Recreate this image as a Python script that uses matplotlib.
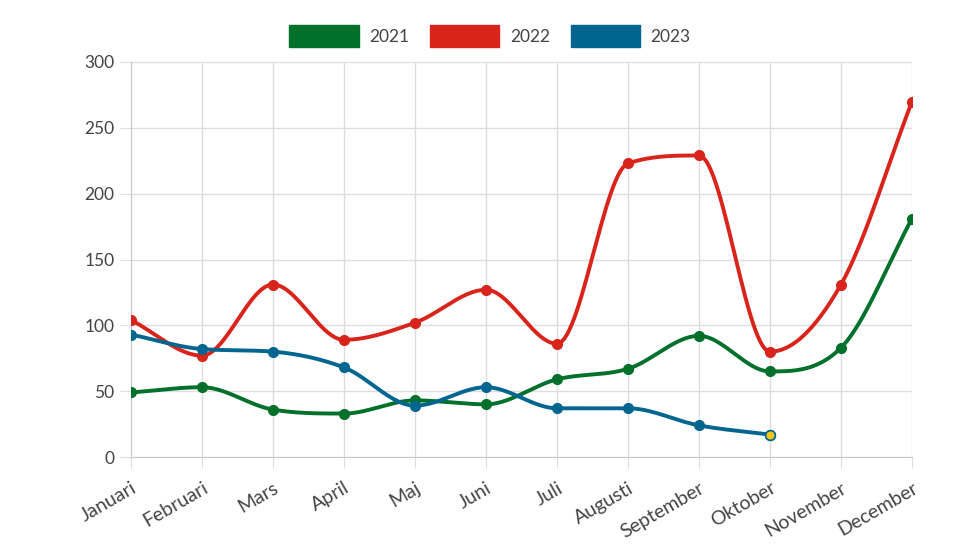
import numpy as np
import matplotlib
matplotlib.use("Agg")
import matplotlib.pyplot as plt
from matplotlib.patches import Patch

months = ["Januari", "Februari", "Mars", "April", "Maj", "Juni", "Juli",
          "Augusti", "September", "Oktober", "November", "December"]
v2021 = [49, 53, 36, 33, 43, 40, 59, 67, 92, 65, 83, 181]
v2022 = [104, 77, 131, 89, 102, 127, 86, 223, 229, 80, 131, 270]
v2023 = [93, 82, 80, 68, 39, 53, 37, 37, 24, 17]
yticks = [0, 50, 100, 150, 200, 250, 300]

colors = {"2021": "#00702b", "2022": "#d9241c", "2023": "#00668f"}

plt.rcParams['font.family'] = ['Lato', 'DejaVu Sans']


def monotone(x, y, n=30):
    x = np.asarray(x, float); y = np.asarray(y, float)
    h = np.diff(x); d = np.diff(y) / h
    m = np.zeros_like(y)
    m[0] = d[0]; m[-1] = d[-1]
    for i in range(1, len(y) - 1):
        if d[i - 1] * d[i] <= 0:
            m[i] = 0
        else:
            m[i] = (d[i - 1] + d[i]) / 2
    for i in range(len(d)):
        if d[i] == 0:
            m[i] = m[i + 1] = 0
        else:
            a = m[i] / d[i]; b = m[i + 1] / d[i]
            s = a * a + b * b
            if s > 9:
                t = 3 / np.sqrt(s)
                m[i] = t * a * d[i]; m[i + 1] = t * b * d[i]
    xs, ys = [], []
    for i in range(len(d)):
        t = np.linspace(0, 1, n)
        h00 = 2 * t**3 - 3 * t**2 + 1
        h10 = t**3 - 2 * t**2 + t
        h01 = -2 * t**3 + 3 * t**2
        h11 = t**3 - t**2
        xs.append(x[i] + t * h[i])
        ys.append(h00 * y[i] + h10 * h[i] * m[i] + h01 * y[i + 1] + h11 * h[i] * m[i + 1])
    return np.concatenate(xs), np.concatenate(ys)


fig = plt.figure(figsize=(9.8, 5.51), dpi=100)
ax = fig.add_axes([131 / 980, (551 - 457) / 551, (912 - 131) / 980, (457 - 62) / 551])

for label, vals in [("2021", v2021), ("2022", v2022), ("2023", v2023)]:
    x = np.arange(len(vals))
    sx, sy = monotone(x, vals)
    ax.plot(sx, sy, color=colors[label], lw=2.8, solid_capstyle='round', zorder=3)
    ax.plot(x, vals, 'o', color=colors[label], ms=7, zorder=4)

# highlight last 2023 point
ax.plot([len(v2023) - 1], [v2023[-1]], 'o', color="#f5c518", mec=colors["2023"],
        mew=1.2, ms=7, zorder=5)

ax.set_xlim(0, len(months) - 1)
ax.set_ylim(0, 300)
ax.set_xticks(np.arange(len(months)))
ax.set_xticklabels(months, rotation=30, ha='right', rotation_mode='anchor',
                   fontsize=14, color="#444444")
ax.set_yticks(yticks)
ax.set_yticklabels([str(t) for t in yticks], fontsize=12.5, color="#444444")
ax.grid(True, color="#dddddd", lw=1)
ax.set_axisbelow(True)
ax.tick_params(axis='both', length=8, color="#dddddd", pad=4)
ax.tick_params(axis='x', pad=8)
for s in ["top", "right"]:
    ax.spines[s].set_visible(False)
for s in ["left", "bottom"]:
    ax.spines[s].set_color("#c8c8c8")

handles = [Patch(facecolor=colors[k], edgecolor=colors[k]) for k in ["2021", "2022", "2023"]]
fig.legend(handles, ["2021", "2022", "2023"], loc='center', bbox_to_anchor=(0.5, 1 - 36 / 551),
           ncol=3, frameon=False, fontsize=12.5, handlelength=4.0, handleheight=1.5,
           columnspacing=1.2, handletextpad=0.6, labelcolor="#444444")

fig.savefig("out.png", dpi=100)
